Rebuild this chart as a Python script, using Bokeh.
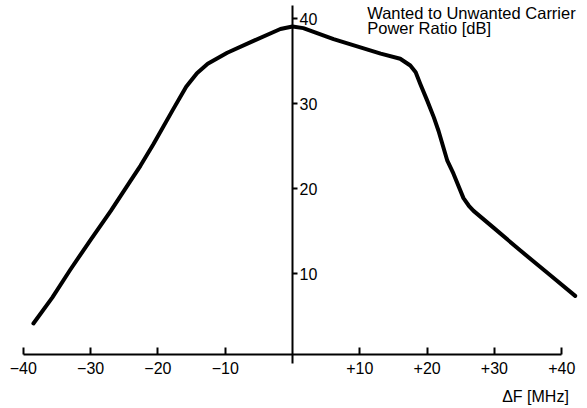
from bokeh.plotting import figure
from bokeh.models import Range1d, FixedTicker, Label
from bokeh.embed import file_html
from bokeh.resources import INLINE

# Frequency offset ΔF [MHz] and wanted-to-unwanted carrier power ratio [dB]
freq = [-38.5, -35.7, -33.0, -30.0, -27.0, -24.1, -22.6, -20.7, -17.7, -15.8,
        -14.2, -12.6, -9.7, -5.8, -1.8, 0.0, 1.6, 6.1, 13.1, 16.0,
        17.5, 18.3, 19.0, 20.0, 21.0, 21.7, 23.0, 23.9, 25.4, 26.2,
        26.9, 29.9, 33.9, 37.9, 42.0]
ratio = [4.15, 7.2, 10.5, 14.0, 17.4, 20.9, 22.7, 25.2, 29.4, 32.0,
         33.6, 34.7, 36.0, 37.4, 38.8, 39.1, 38.9, 37.6, 35.9, 35.3,
         34.5, 33.7, 32.3, 30.4, 28.4, 26.8, 23.3, 21.8, 18.9, 18.0,
         17.4, 15.4, 12.7, 10.1, 7.4]

x_ticks = [-40, -30, -20, -10, 10, 20, 30, 40]
x_tick_labels = ["\u221240", "\u221230", "\u221220", "\u221210", "+10", "+20", "+30", "+40"]
y_ticks = [10, 20, 30, 40]
y_tick_labels = ["10", "20", "30", "40"]
y_title = ["Wanted to Unwanted Carrier", "Power Ratio [dB]"]
x_title = "\u0394F [MHz]"

FONT = "Liberation Sans"

p = figure(width=587, height=408,
           x_range=Range1d(-43.39, 43.83), y_range=Range1d(-5.85, 42.15),
           output_backend="svg", toolbar_location=None,
           x_axis_location="below", y_axis_location="right",
           min_border_left=0, min_border_right=0, min_border_top=0, min_border_bottom=0)
p.outline_line_color = None
p.grid.visible = False
p.background_fill_color = "white"
p.border_fill_color = "white"

xa = p.xaxis[0]
xa.fixed_location = 0.5
xa.ticker = FixedTicker(ticks=x_ticks, minor_ticks=[])
xa.major_label_overrides = dict(zip(x_ticks, x_tick_labels))
xa.bounds = (-40, 40)
xa.major_tick_in = 7
xa.major_tick_out = 0
xa.minor_tick_in = 0
xa.minor_tick_out = 0
xa.axis_line_width = 2
xa.axis_line_color = "black"
xa.major_tick_line_width = 2
xa.major_tick_line_color = "black"
xa.major_label_text_font = FONT
xa.major_label_text_font_size = "16px"
xa.major_label_text_color = "black"
xa.major_label_standoff = 7

ya = p.yaxis[0]
ya.fixed_location = 0
ya.ticker = FixedTicker(ticks=y_ticks, minor_ticks=[])
ya.major_label_overrides = dict(zip(y_ticks, y_tick_labels))
ya.bounds = (-0.55, 41.56)
ya.major_tick_in = 0
ya.major_tick_out = 5
ya.minor_tick_in = 0
ya.minor_tick_out = 0
ya.axis_line_width = 2
ya.axis_line_color = "black"
ya.major_tick_line_width = 2
ya.major_tick_line_color = "black"
ya.major_label_text_font = FONT
ya.major_label_text_font_size = "16px"
ya.major_label_text_color = "black"
ya.major_label_standoff = 2

p.line(freq, ratio, line_width=4, line_color="black",
       line_join="round", line_cap="round")

p.add_layout(Label(x=11.1, y=40.7, text=y_title[0], text_font=FONT,
                   text_font_size="16.5px", text_color="black",
                   text_baseline="alphabetic", text_align="left"))
p.add_layout(Label(x=11.1, y=38.93, text=y_title[1], text_font=FONT,
                   text_font_size="16.5px", text_color="black",
                   text_baseline="alphabetic", text_align="left"))
p.add_layout(Label(x=41.06, y=-4.4, text=x_title, text_font=FONT,
                   text_font_size="16px", text_color="black",
                   text_baseline="alphabetic", text_align="right"))

open("out.html", "w").write(file_html(p, INLINE))
